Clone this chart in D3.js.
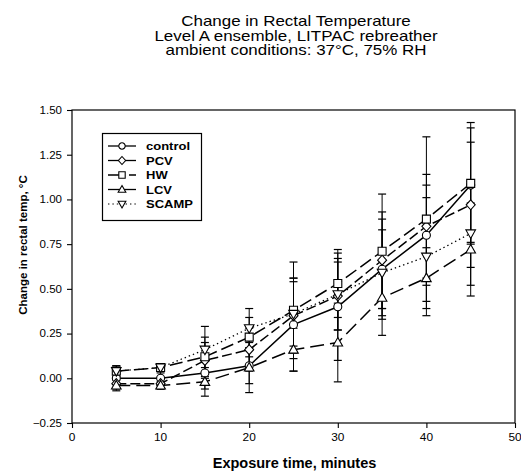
<!DOCTYPE html>
<html>
<head>
<meta charset="utf-8">
<script src="https://cdn.jsdelivr.net/npm/d3@7"></script>
<style>
  html, body { margin: 0; padding: 0; background: #fff; }
  svg { display: block; }
  text { font-family: "Liberation Sans", Arial, Helvetica, sans-serif; fill: #000; }
</style>
</head>
<body>
<svg id="chart" width="521" height="472"></svg>
<script>
// ---- data ----
const times = [5, 10, 15, 20, 25, 30, 35, 40, 45];
const seriesNames = ["control", "PCV", "HW", "LCV", "SCAMP"];
const control = [0.00, 0.00, 0.03, 0.07, 0.30, 0.40, 0.61, 0.80, 1.08];
const pcv     = [-0.03, -0.03, 0.10, 0.16, 0.35, 0.46, 0.66, 0.85, 0.97];
const hw      = [0.04, 0.06, 0.12, 0.23, 0.38, 0.53, 0.71, 0.89, 1.09];
const lcv     = [-0.04, -0.04, -0.02, 0.06, 0.16, 0.20, 0.45, 0.56, 0.72];
const scamp   = [0.04, 0.06, 0.16, 0.28, 0.36, 0.47, 0.59, 0.68, 0.81];
const controlSD = [0.03, 0.03, 0.09, 0.10, 0.26, 0.30, 0.28, 0.28, 0.32];
const pcvSD     = [0.03, 0.03, 0.10, 0.12, 0.21, 0.19, 0.27, 0.29, 0.35];
const hwSD      = [0.03, 0.02, 0.11, 0.11, 0.27, 0.19, 0.32, 0.46, 0.34];
const lcvSD     = [0.03, 0.02, 0.08, 0.14, 0.12, 0.22, 0.21, 0.17, 0.26];
const scampSD   = [0.03, 0.02, 0.13, 0.11, 0.18, 0.20, 0.24, 0.33, 0.29];
const xTicks = [0, 10, 20, 30, 40, 50];
const yTicks = [-0.25, 0.00, 0.25, 0.50, 0.75, 1.00, 1.25, 1.50];
const titleLines = ["Change in Rectal Temperature", "Level A ensemble, LITPAC rebreather", "ambient conditions: 37°C, 75% RH"];
const xTitle = "Exposure time, minutes";
const yTitle = "Change in rectal temp, °C";

const values = [control, pcv, hw, lcv, scamp];
const sds = [controlSD, pcvSD, hwSD, lcvSD, scampSD];
const symbols = ["circle", "diamond", "square", "triangleUp", "triangleDown"];
const dashes = [null, "10,4", "13,5", "14,6", "1.4,3"];

// ---- layout ----
const svg = d3.select("#chart");
const L = 72, R = 515, T = 110, B = 423;
const x = d3.scaleLinear().domain([0, 50]).range([L, R]);
const y = d3.scaleLinear().domain([-0.25, 1.5]).range([B, T]);

function stretchedText(g, tx, ty, str, size, weight, anchor, sx) {
  return g.append("text")
    .attr("transform", `translate(${tx},${ty}) scale(${sx || 1.1},1)`)
    .attr("text-anchor", anchor || "middle")
    .style("font-size", size + "px")
    .style("font-weight", weight || "normal")
    .text(str);
}

// title
const tBase = [26, 40.5, 55];
titleLines.forEach((s, i) => stretchedText(svg, 296, tBase[i], s, 15, "normal", "middle", 1.13));

// frame
svg.append("rect").attr("x", L).attr("y", T).attr("width", R - L).attr("height", B - T)
  .attr("fill", "none").attr("stroke", "#000").attr("stroke-width", 1.2);

// axes
const xAxis = d3.axisBottom(x).tickValues(xTicks).tickSize(5).tickFormat(d3.format("d"));
const gx = svg.append("g").attr("transform", `translate(0,${B})`).call(xAxis);
gx.select(".domain").remove();
gx.selectAll(".tick line").attr("stroke", "#000").attr("stroke-width", 1.1);
gx.selectAll(".tick text").remove();
xTicks.forEach(v => stretchedText(svg, x(v), 441, String(v), 11, "normal", "middle", 1.08));

const yAxis = d3.axisLeft(y).tickValues(yTicks).tickSize(5);
const gy = svg.append("g").attr("transform", `translate(${L},0)`).call(yAxis);
gy.select(".domain").remove();
gy.selectAll(".tick line").attr("stroke", "#000").attr("stroke-width", 1.1);
gy.selectAll(".tick text").remove();
yTicks.forEach(v => stretchedText(svg, 62, y(v) + 3.8, d3.format(".2f")(v), 10.5, "normal", "end", 1.1));

// axis titles
stretchedText(svg, 294.5, 468, xTitle, 14.5, "bold", "middle", 1.0);
svg.append("text")
  .attr("transform", `translate(27,${245}) rotate(-90)`)
  .attr("text-anchor", "middle")
  .style("font-size", "11.5px").style("font-weight", "bold")
  .text(yTitle);

// symbol helper
function drawSymbol(g, type, cx, cy, k) {
  k = k || 1;
  const s = g.append("path").attr("fill", "#fff").attr("stroke", "#000").attr("stroke-width", 1.1);
  let d;
  if (type === "circle") d = d3.symbol(d3.symbolCircle, 50)();
  else if (type === "diamond") d = `M0,-5L4.5,0L0,5L-4.5,0Z`;
  else if (type === "square") d = `M-4,-4H4V4H-4Z`;
  else if (type === "triangleUp") d = `M0,-5L4.8,3.5L-4.8,3.5Z`;
  else d = `M0,5L4.8,-3.5L-4.8,-3.5Z`;
  s.attr("d", d).attr("transform", `translate(${cx},${cy}) scale(${k})`)
   .attr("stroke-width", 1.1 / k);
}

// error bars
const eg = svg.append("g");
values.forEach((vals, si) => {
  vals.forEach((v, i) => {
    const cx = x(times[i]);
    const y1 = y(v + sds[si][i]), y0 = y(v - sds[si][i]);
    eg.append("line").attr("x1", cx).attr("x2", cx).attr("y1", y1).attr("y2", y0)
      .attr("stroke", "#000").attr("stroke-width", 1);
    [y1, y0].forEach(yy => eg.append("line").attr("x1", cx - 4).attr("x2", cx + 4)
      .attr("y1", yy).attr("y2", yy).attr("stroke", "#000").attr("stroke-width", 1.2));
  });
});

// lines
const line = d3.line().x((d, i) => x(times[i])).y(d => y(d));
values.forEach((vals, si) => {
  svg.append("path").datum(vals).attr("d", line)
    .attr("fill", "none").attr("stroke", "#000")
    .attr("stroke-width", si === 4 ? 1.3 : 1.5)
    .attr("stroke-dasharray", dashes[si]);
});

// markers
values.forEach((vals, si) => {
  vals.forEach((v, i) => drawSymbol(svg, symbols[si], x(times[i]), y(v)));
});

// legend
const lg = svg.append("g");
lg.append("rect").attr("x", 102.5).attr("y", 133.5).attr("width", 99).attr("height", 87)
  .attr("fill", "#fff").attr("stroke", "#000").attr("stroke-width", 1.2);
const ly = [146, 160.5, 175, 189.5, 204];
seriesNames.forEach((name, si) => {
  lg.append("line").attr("x1", 108).attr("x2", 136).attr("y1", ly[si]).attr("y2", ly[si])
    .attr("stroke", "#000").attr("stroke-width", si === 4 ? 1.2 : 1.3)
    .attr("stroke-dasharray", si === 4 ? "1.4,3" : (si === 2 ? "17,4" : null));
  drawSymbol(lg, symbols[si], 122, ly[si], 0.8);
  stretchedText(lg, 146, ly[si] + 4, name, 11.5, "bold", "start", 1.13);
});
</script>
</body>
</html>
